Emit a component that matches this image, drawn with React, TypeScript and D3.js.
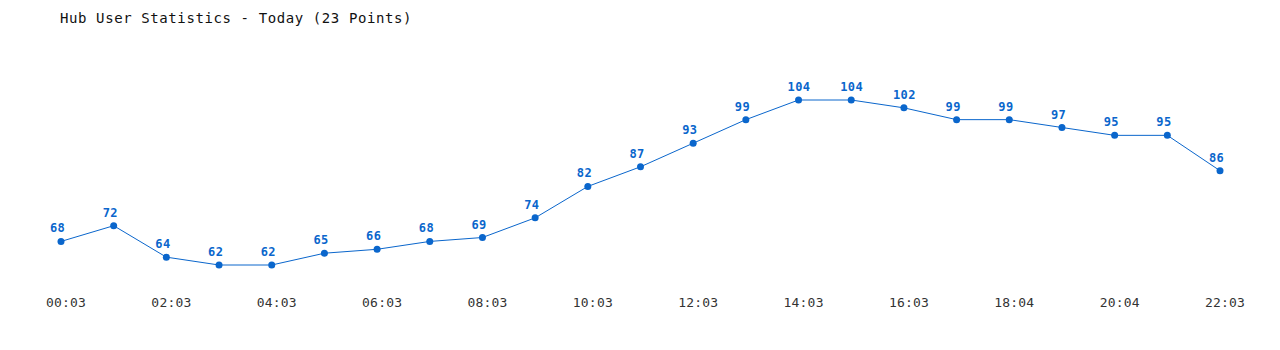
import React from "react";
import * as d3 from "d3";

const title = "Hub User Statistics - Today (23 Points)";
const times = [
  "00:03", "01:03", "02:03", "03:03", "04:03", "05:03", "06:03", "07:03",
  "08:03", "09:03", "10:03", "11:03", "12:03", "13:03", "14:03", "15:03",
  "16:03", "17:03", "18:04", "19:04", "20:04", "21:04", "22:03",
];
const users = [68, 72, 64, 62, 62, 65, 66, 68, 69, 74, 82, 87, 93, 99, 104, 104, 102, 99, 99, 97, 95, 95, 86];

const W = 1280;
const H = 350;
const BLUE = "#0a66cc";
const FONT = "'DejaVu Sans Mono', 'Liberation Mono', monospace";

export default function App() {
  const x = d3.scaleLinear().domain([0, users.length - 1]).range([61, 1220]);
  const y = d3.scaleLinear().domain([62, 104]).range([265, 100]);
  const line = d3
    .line<number>()
    .x((_, i) => x(i))
    .y((d) => y(d));

  return (
    <svg
      width={W}
      height={H}
      style={{ position: "absolute", left: 0, top: 0, background: "#fff" }}
    >
      <text
        x={60}
        y={23}
        fontFamily={FONT}
        fontSize={14}
        letterSpacing={0.6}
        fill="#111"
      >
        {title}
      </text>
      <path d={line(users) || ""} fill="none" stroke={BLUE} strokeWidth={1} />
      {users.map((v, i) => (
        <g key={i}>
          <circle cx={x(i)} cy={y(v)} r={3.5} fill={BLUE} />
          <text
            x={x(i) - 11}
            y={y(v) - 9}
            textAnchor="start"
            fontFamily={FONT}
            fontSize={12}
            fontWeight="bold"
            letterSpacing={0.4}
            fill={BLUE}
          >
            {v}
          </text>
        </g>
      ))}
      {times.map((t, i) =>
        i % 2 === 0 ? (
          <text
            key={t}
            x={x(i) - 15}
            y={307}
            textAnchor="start"
            fontFamily={FONT}
            fontSize={13}
            letterSpacing={0.2}
            fill="#333"
          >
            {t}
          </text>
        ) : null
      )}
    </svg>
  );
}
